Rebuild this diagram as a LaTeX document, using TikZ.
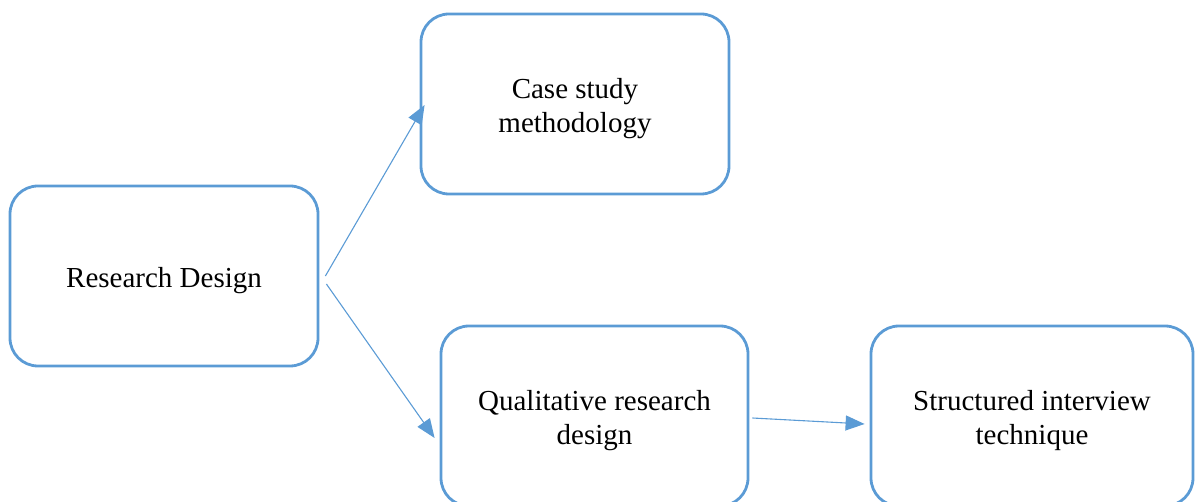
\documentclass[tikz,border=0pt]{standalone}
\usepackage{fontspec}
\setmainfont{Liberation Serif}
\usetikzlibrary{arrows.meta}
\definecolor{accentblue}{HTML}{5B9BD5}
\newcommand{\tstrut}{\rule{0pt}{30pt}}
\begin{document}
\begin{tikzpicture}[x=1pt,y=-1pt,
  box/.style={draw=accentblue, line width=2.8pt, rounded corners=28pt, align=center,
    font=\fontsize{29}{34}\selectfont, inner sep=0pt},
  conn/.style={draw=accentblue, line width=1.1pt, -{Triangle[length=19pt,width=15pt]}}]
\useasboundingbox (0,0) rectangle (1195,502);
\node[box, minimum width=308pt, minimum height=180pt] (rd) at (164,276) {\tstrut Research Design};
\node[box, minimum width=308pt, minimum height=180pt] (cs) at (575,104) {\tstrut Case study\\methodology};
\node[box, minimum width=307pt, minimum height=180pt] (qr) at (594.5,416) {\tstrut Qualitative research\\design};
\node[box, minimum width=322pt, minimum height=180pt] (si) at (1032,416) {\tstrut Structured interview\\technique};
\draw[conn] ([xshift=6pt]rd.east) -- ([xshift=5pt,yshift=-1pt]cs.west);
\draw[conn] ([xshift=7pt,yshift=-8pt]rd.east) -- ([xshift=-5pt,yshift=-22pt]qr.east -| qr.west);
\draw[conn] ([xshift=3pt,yshift=-2pt]qr.east) -- ([xshift=-5pt,yshift=-8pt]si.west);
\end{tikzpicture}
\end{document}
